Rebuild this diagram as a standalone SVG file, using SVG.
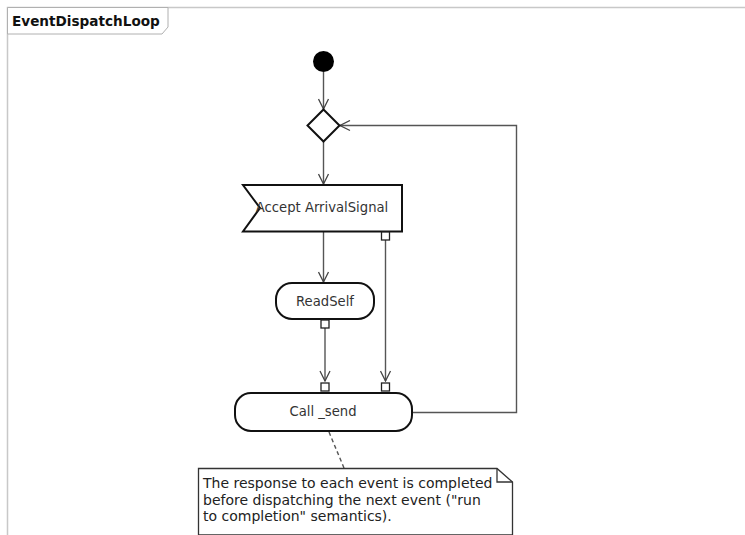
<svg xmlns="http://www.w3.org/2000/svg" width="745" height="535" viewBox="0 0 745 535">
<defs>
<style>
.frame{fill:none;stroke:#c8c8c8;stroke-width:1.5}
.tab{fill:#fff;stroke:#b0b0b0;stroke-width:1}
.shape{fill:#fff;stroke:#111;stroke-width:2}
.pin{fill:#fff;stroke:#222;stroke-width:1.3}
.edge{fill:none;stroke:#555;stroke-width:1.4}
.lbl{font-family:"DejaVu Sans",Verdana,sans-serif;font-size:13.2px;fill:#333}
.note{font-family:"DejaVu Sans",Verdana,sans-serif;font-size:14px;fill:#222}
.title{font-family:"DejaVu Sans",Verdana,sans-serif;font-size:13.6px;font-weight:bold;fill:#111}
</style>
<marker id="arr" viewBox="0 0 12 12" refX="11" refY="6" markerWidth="12" markerHeight="12" markerUnits="userSpaceOnUse" orient="auto">
<path d="M1,1 L11,6 L1,11" fill="none" stroke="#444" stroke-width="1.3"/>
</marker>
</defs>
<rect width="745" height="535" fill="#fff"/>
<g id="frame">
<path class="frame" d="M745,7.5 H7.5 V535"/>
<path class="tab" d="M7.5,7.5 H168 V27 L162,34 H7.5 Z"/>
<text class="title" x="12" y="26">EventDispatchLoop</text>
</g>
<g id="connectors">
<line class="edge" x1="323.5" y1="72" x2="323.5" y2="109" marker-end="url(#arr)"/>
<line class="edge" x1="323.5" y1="142" x2="323.5" y2="184" marker-end="url(#arr)"/>
<line class="edge" x1="323.5" y1="232" x2="323.5" y2="282" marker-end="url(#arr)"/>
<line class="edge" x1="325" y1="328" x2="325" y2="381" marker-end="url(#arr)"/>
<line class="edge" x1="385.5" y1="240" x2="385.5" y2="381" marker-end="url(#arr)"/>
<polyline class="edge" points="413,412.5 516.5,412.5 516.5,125.5 340,125.5" marker-end="url(#arr)"/>
<line class="edge" x1="329" y1="432" x2="344" y2="468" stroke-dasharray="4,3"/>
</g>
<g id="initial">
<circle cx="323.5" cy="61.5" r="10.5" fill="#000"/>
</g>
<g id="decision">
<polygon class="shape" points="323.5,109.5 339.5,125.5 323.5,141.5 307.5,125.5"/>
</g>
<g id="accept">
<polygon class="shape" points="243,185 402,185 402,231.5 243,231.5 260,208"/>
<text class="lbl" x="322" y="212" text-anchor="middle">Accept ArrivalSignal</text>
<rect class="pin" x="381.5" y="232" width="8" height="8"/>
</g>
<g id="readself">
<rect class="shape" x="276" y="283" width="98" height="36" rx="16" ry="16"/>
<text class="lbl" x="325" y="306" text-anchor="middle">ReadSelf</text>
<rect class="pin" x="321" y="320" width="8" height="8"/>
</g>
<g id="callsend">
<rect class="shape" x="235" y="393" width="177" height="38" rx="16" ry="16"/>
<text class="lbl" x="323" y="416" text-anchor="middle">Call _send</text>
<rect class="pin" x="321" y="383" width="8" height="8"/>
<rect class="pin" x="381.5" y="383" width="8" height="8"/>
</g>
<g id="note">
<path d="M198.5,468.5 H497 L512.5,482 V535 H198.5 Z" fill="#fff" stroke="#333" stroke-width="1.3"/>
<path d="M497,468.5 V482 H512.5" fill="none" stroke="#333" stroke-width="1.3"/>
<text class="note" x="203" y="488">The response to each event is completed</text>
<text class="note" x="203" y="505">before dispatching the next event ("run</text>
<text class="note" x="203" y="521">to completion" semantics).</text>
</g>
</svg>
